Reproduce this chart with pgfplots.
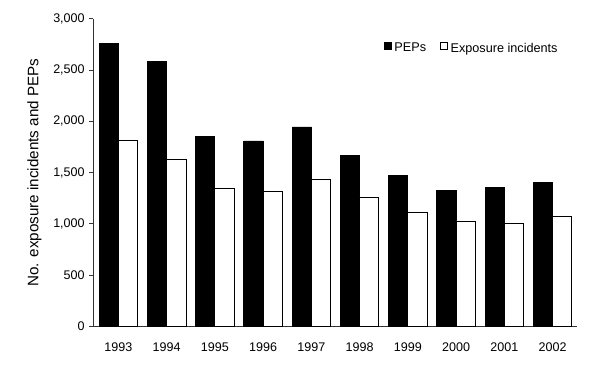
\documentclass[border=0pt]{standalone}
\usepackage{pgfplots}
\pgfplotsset{compat=1.18}
\usepackage{fontspec}
\setmainfont{Liberation Sans}
\pgfplotsset{sqlegend/.style={legend image code/.code={\draw[##1,line width=0.5pt] (0pt,-0.8pt) rectangle (5.3pt,4.5pt);}}}
\begin{document}
\begin{tikzpicture}
\useasboundingbox (0pt,0pt) rectangle (450pt,274.5pt);
\begin{axis}[
  at={(70pt,29.8pt)}, anchor=south west,
  scale only axis, width=362.5pt, height=230.5pt,
  xmin=-0.52, xmax=9.5, ymin=0, ymax=3000,
  axis lines*=left,
  axis line style={line width=0.7pt, color=black!80},
  xtick={0,...,9},
  xticklabels={1993,1994,1995,1996,1997,1998,1999,2000,2001,2002},
  x tick style={draw=none},
  ytick={0,500,...,3000},
  y tick style={line width=0.7pt, color=black!80},
  tick align=outside, major tick length=3pt,
  scaled ticks=false,
  /pgf/number format/1000 sep={,},
  /pgf/number format/assume math mode=true,
  tick label style={font=\fontsize{9.4}{11}\selectfont},
  xticklabel style={yshift=-5.5pt},
  ylabel={No. exposure incidents and PEPs},
  ylabel style={font=\fontsize{11.4}{13}\selectfont, yshift=2pt},
  legend style={draw=none, fill=none, at={(0.601,0.904)}, anchor=west,
    font=\fontsize{9.5}{11}\selectfont,
    /tikz/every even column/.append style={column sep=8.5pt},
    inner sep=0pt},
  legend columns=2,
  legend cell align=left,
]
\addplot[ybar, sqlegend, bar width=0.4, bar shift=-0.2, fill=black, draw=black, line width=0.6pt]
  coordinates {(0,2759) (1,2583) (2,1855) (3,1809) (4,1946) (5,1666) (6,1470) (7,1327) (8,1357) (9,1405)};
\addplot[ybar, sqlegend, bar width=0.4, bar shift=0.2, fill=white, draw=black, line width=0.6pt]
  coordinates {(0,1816) (1,1630) (2,1347) (3,1314) (4,1431) (5,1262) (6,1109) (7,1028) (8,1002) (9,1070)};
\legend{PEPs, Exposure incidents}
\end{axis}
\end{tikzpicture}
\end{document}
